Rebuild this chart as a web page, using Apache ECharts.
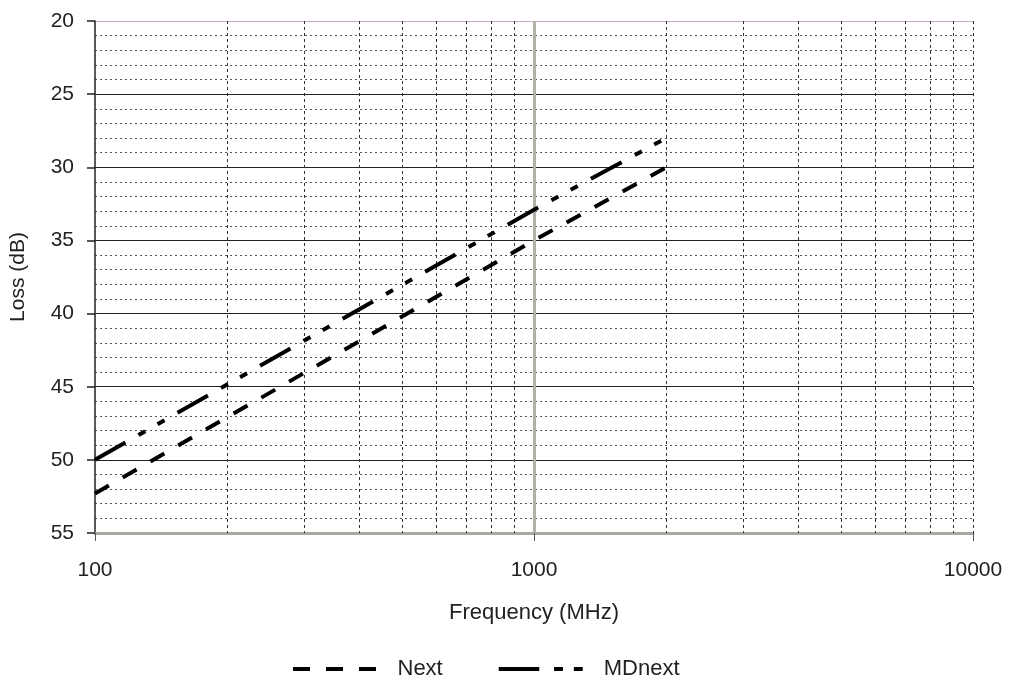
<!DOCTYPE html>
<html>
<head>
<meta charset="utf-8">
<script src="https://cdn.jsdelivr.net/npm/echarts@6/dist/echarts.min.js"></script>
<style>
html,body{margin:0;padding:0;background:#fff;}
#chart{width:1011px;height:682px;}
</style>
</head>
<body>
<div id="chart"></div>
<script>
// Data
const freq = [100, 1000, 2000];
const nextLoss = [52.3, 35.0, 30.0];
const mdnextLoss = [50.0, 32.9, 28.0];
const xTickLabels = [100, 1000, 10000];
const yTicks = [20, 25, 30, 35, 40, 45, 50, 55];
const minorFreqLines = [200, 300, 400, 500, 600, 700, 800, 900, 2000, 3000, 4000, 5000, 6000, 7000, 8000, 9000, 10000];
const majorFreqLines = [1000];

const chart = echarts.init(document.getElementById('chart'));
const font = 'Liberation Sans, Arial, sans-serif';

const option = {
  animation: false,
  backgroundColor: '#fff',
  textStyle: { fontFamily: font },
  grid: { left: 93, right: 38, top: 21, bottom: 149, containLabel: false },
  legend: {
    data: [
      { name: 'Next', icon: 'path://M0,0h17v4h-17zM33,0h17v4h-17zM66,0h17v4h-17z' },
      { name: 'MDnext', icon: 'path://M0,0h41v4h-41zM56,0h9v4h-9zM76,0h9v4h-9z' }
    ],
    left: 293,
    top: 658,
    padding: 0,
    itemWidth: 84,
    itemHeight: 4,
    itemGap: 56,
    selectedMode: false,
    textStyle: { fontFamily: font, fontSize: 22, color: '#222', padding: [0, 0, 0, 16] }
  },
  xAxis: {
    type: 'log',
    logBase: 10,
    min: 100,
    max: 10000,
    name: 'Frequency (MHz)',
    nameLocation: 'middle',
    nameGap: 69,
    nameTextStyle: { fontFamily: font, fontSize: 22, color: '#222' },
    axisLine: { show: true, lineStyle: { color: '#a8a8a0', width: 3 } },
    axisTick: { show: true, length: 8, lineStyle: { color: '#555' } },
    axisLabel: {
      fontFamily: font, fontSize: 21, color: '#222', margin: 27,
      formatter: function (v) { return xTickLabels.indexOf(Math.round(v)) >= 0 ? String(Math.round(v)) : ''; }
    },
    splitLine: { show: false },
    minorTick: { show: false },
    minorSplitLine: { show: false }
  },
  yAxis: {
    type: 'value',
    inverse: true,
    min: yTicks[0],
    max: yTicks[yTicks.length - 1],
    interval: 5,
    name: 'Loss (dB)',
    nameLocation: 'middle',
    nameGap: 66,
    nameRotate: 90,
    nameTextStyle: { fontFamily: font, fontSize: 21, color: '#222' },
    axisLine: { show: true, lineStyle: { color: '#222', width: 1.5 } },
    axisTick: { show: true, length: 8, inside: false, lineStyle: { color: '#222', width: 1.5 } },
    axisLabel: { fontFamily: font, fontSize: 21, color: '#222', margin: 21 },
    splitLine: {
      show: true,
      lineStyle: {
        color: ['#c8a8c8', '#222', '#222', '#222', '#222', '#222', '#222', '#a8a8a0'],
        width: 1.2,
        type: 'solid'
      }
    },
    minorTick: { show: false, splitNumber: 5 },
    minorSplitLine: { show: true, lineStyle: { color: '#555', width: 1, type: [2, 3] } }
  },
  series: [
    {
      name: 'Next',
      type: 'line',
      symbol: 'none',
      data: freq.map((f, i) => [f, nextLoss[i]]),
      lineStyle: { color: '#000', width: 4, type: [16, 16] },
      itemStyle: { color: '#000' },
      z: 5
    },
    {
      name: 'MDnext',
      type: 'line',
      symbol: 'none',
      data: freq.map((f, i) => [f, mdnextLoss[i]]),
      lineStyle: { color: '#000', width: 4, type: [35, 15, 8, 14, 8, 15] },
      itemStyle: { color: '#000' },
      z: 5
    },
    {
      name: 'grid',
      type: 'line',
      data: [],
      silent: true,
      z: 1,
      markLine: {
        silent: true,
        symbol: 'none',
        label: { show: false },
        animation: false,
        data: minorFreqLines.map(v => ({ xAxis: v, lineStyle: { color: '#333', width: 1, type: [3, 3] } }))
          .concat(majorFreqLines.map(v => ({ xAxis: v, lineStyle: { color: '#b0b0a8', width: 3, type: 'solid' } })))
      }
    }
  ]
};
chart.setOption(option);
</script>
</body>
</html>
